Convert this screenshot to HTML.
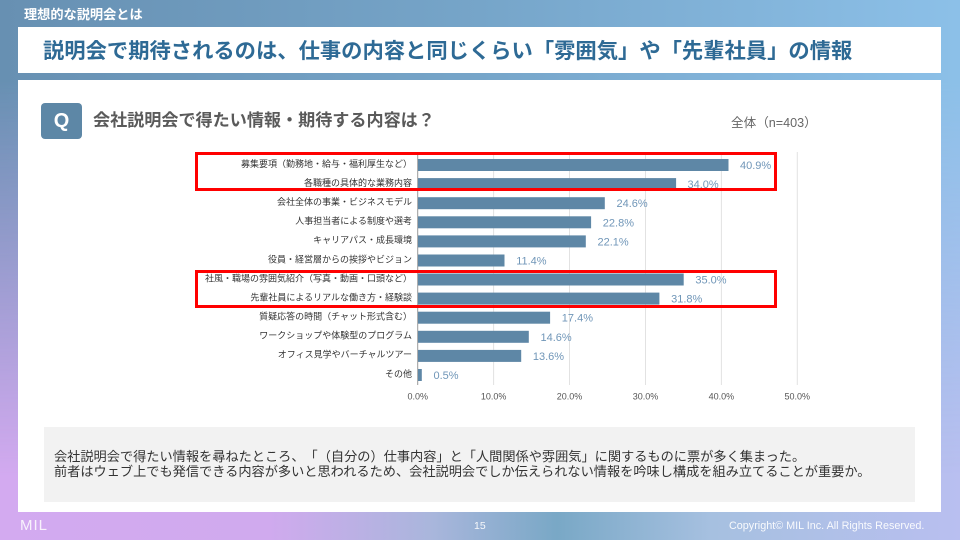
<!DOCTYPE html>
<html><head><meta charset="utf-8">
<style>
html,body{margin:0;padding:0;}
body{width:960px;height:540px;position:relative;overflow:hidden;font-family:"Liberation Sans","Noto Sans CJK JP",sans-serif;text-spacing-trim:space-all;}
.bgb{position:absolute;left:0;top:0;width:960px;height:540px;
background:linear-gradient(to right,#d3aaf0 0%,#d0aaee 28%,#a9b6dc 45%,#79a8c6 58%,#a6c0e0 74%,#b9bff0 100%);}
.bgt{position:absolute;left:0;top:0;width:960px;height:540px;
background:linear-gradient(to right,#6790b2 0%,#76a5c9 50%,#8cc0e8 100%);
-webkit-mask-image:linear-gradient(to bottom,#000 0%,#000 15%,rgba(0,0,0,0) 88%);
mask-image:linear-gradient(to bottom,#000 0%,#000 15%,rgba(0,0,0,0) 88%);}
.sec{position:absolute;left:24px;top:6px;color:#fff;font-weight:bold;font-size:13.2px;line-height:18px;}
.titlebox{position:absolute;left:18px;top:27px;width:923px;height:46px;background:#fff;}
.title{position:absolute;left:43px;top:37px;font-size:21.3px;line-height:28px;font-weight:bold;color:#2e6a95;white-space:nowrap;}
.panel{position:absolute;left:18px;top:80px;width:923px;height:432px;background:#fff;}
.q{position:absolute;left:41px;top:103px;width:41px;height:36px;background:#5d87a6;border-radius:4px;color:#fff;font-weight:bold;font-size:20px;line-height:36px;text-align:center;}
.qt{position:absolute;left:93px;top:110px;font-size:17.1px;line-height:22px;font-weight:bold;color:#5a5a5a;white-space:nowrap;}
.n{position:absolute;left:731px;top:114px;font-size:12.6px;line-height:18px;color:#666;white-space:nowrap;}
.note{position:absolute;left:44px;top:427px;width:871px;height:75px;background:#f2f2f2;}
.notet{position:absolute;left:54px;top:449px;font-size:13.2px;line-height:15.4px;color:#333;white-space:nowrap;}
.foot{position:absolute;color:#fff;font-size:10.5px;line-height:12px;white-space:nowrap;opacity:.92;}
svg{position:absolute;left:0;top:0;text-spacing-trim:space-all;}
</style></head><body>
<div class="bgb"></div><div class="bgt"></div>
<div class="sec">理想的な説明会とは</div>
<div class="titlebox"></div>
<div class="title">説明会で期待されるのは、仕事の内容と同じくらい「雰囲気」や「先輩社員」の情報</div>
<div class="panel"></div>
<div class="q">Q</div>
<div class="qt">会社説明会で得たい情報・期待する内容は？</div>
<div class="n">全体（n=403）</div>

<svg width="960" height="540" viewBox="0 0 960 540" xmlns="http://www.w3.org/2000/svg">
<g stroke="#e2e2e2" stroke-width="1">
<line x1="493.6" y1="152" x2="493.6" y2="385"/>
<line x1="569.5" y1="152" x2="569.5" y2="385"/>
<line x1="645.5" y1="152" x2="645.5" y2="385"/>
<line x1="721.4" y1="152" x2="721.4" y2="385"/>
<line x1="797.3" y1="152" x2="797.3" y2="385"/>
</g>
<line x1="417.7" y1="152" x2="417.7" y2="385" stroke="#9a9a9a" stroke-width="1"/>
<g fill="#5e87a6">
<rect x="418" y="159" width="310.5" height="12"/>
<rect x="418" y="178.1" width="258.1" height="12"/>
<rect x="418" y="197.2" width="186.8" height="12"/>
<rect x="418" y="216.3" width="173.1" height="12"/>
<rect x="418" y="235.4" width="167.8" height="12"/>
<rect x="418" y="254.5" width="86.5" height="12"/>
<rect x="418" y="273.5" width="265.7" height="12"/>
<rect x="418" y="292.6" width="241.4" height="12"/>
<rect x="418" y="311.7" width="132.1" height="12"/>
<rect x="418" y="330.8" width="110.8" height="12"/>
<rect x="418" y="349.9" width="103.2" height="12"/>
<rect x="418" y="369" width="3.8" height="12"/>
</g>
<g font-family="Liberation Sans, sans-serif" font-size="11" fill="#7096b8">
<text x="740" y="169">40.9%</text>
<text x="687.5" y="188.1">34.0%</text>
<text x="616.5" y="207.2">24.6%</text>
<text x="602.8" y="226.3">22.8%</text>
<text x="597.5" y="245.4">22.1%</text>
<text x="516.2" y="264.5">11.4%</text>
<text x="695.4" y="283.5">35.0%</text>
<text x="671.1" y="302.6">31.8%</text>
<text x="561.8" y="321.7">17.4%</text>
<text x="540.5" y="340.8">14.6%</text>
<text x="532.9" y="359.9">13.6%</text>
<text x="433.5" y="379">0.5%</text>
</g>
<g font-family="Liberation Sans, Noto Sans CJK JP, sans-serif" font-size="9" fill="#333" text-anchor="end">
<text x="412" y="167">募集要項（勤務地・給与・福利厚生など）</text>
<text x="412" y="186">各職種の具体的な業務内容</text>
<text x="412" y="205">会社全体の事業・ビジネスモデル</text>
<text x="412" y="224.1">人事担当者による制度や選考</text>
<text x="412" y="243.2">キャリアパス・成長環境</text>
<text x="412" y="262.3">役員・経営層からの挨拶やビジョン</text>
<text x="412" y="281.3">社風・職場の雰囲気紹介（写真・動画・口頭など）</text>
<text x="412" y="300.4">先輩社員によるリアルな働き方・経験談</text>
<text x="412" y="319.5">質疑応答の時間（チャット形式含む）</text>
<text x="412" y="338.6">ワークショップや体験型のプログラム</text>
<text x="412" y="357.7">オフィス見学やバーチャルツアー</text>
<text x="412" y="376.8">その他</text>
</g>
<g font-family="Liberation Sans, sans-serif" font-size="9" fill="#555" text-anchor="middle">
<text x="417.7" y="399.5">0.0%</text>
<text x="493.6" y="399.5">10.0%</text>
<text x="569.5" y="399.5">20.0%</text>
<text x="645.5" y="399.5">30.0%</text>
<text x="721.4" y="399.5">40.0%</text>
<text x="797.3" y="399.5">50.0%</text>
</g>
<rect x="196.5" y="153.5" width="579" height="36" fill="none" stroke="#ff0000" stroke-width="3"/>
<rect x="196.5" y="271.5" width="579" height="35" fill="none" stroke="#ff0000" stroke-width="3"/>
</svg>

<div class="note"></div>
<div class="notet">会社説明会で得たい情報を尋ねたところ、「（自分の）仕事内容」と「人間関係や雰囲気」に関するものに票が多く集まった。<br>前者はウェブ上でも発信できる内容が多いと思われるため、会社説明会でしか伝えられない情報を吟味し構成を組み立てることが重要か。</div>

<div class="foot" style="left:20px;top:518px;font-size:15px;line-height:16px;letter-spacing:1px;opacity:.85;">MIL</div>
<div class="foot" style="left:474px;top:520px;">15</div>
<div class="foot" style="left:729px;top:520px;font-size:10.8px;">Copyright© MIL Inc. All Rights Reserved.</div>
</body></html>
